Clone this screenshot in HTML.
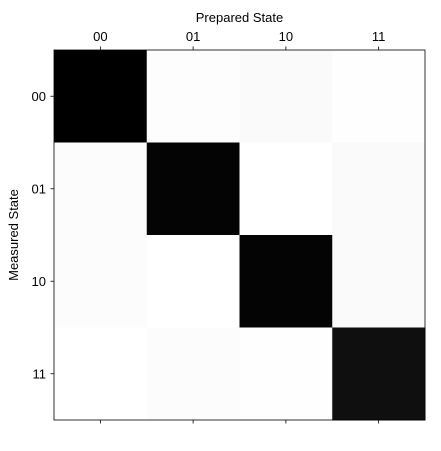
<!DOCTYPE html>
<html><head><meta charset="utf-8"><style>
body{margin:0;background:#fff;width:441px;height:446px;overflow:hidden}
svg{font-family:"Liberation Sans","DejaVu Sans",sans-serif}
</style></head><body>
<svg id="chart" width="441" height="446">
<g id="cells"></g>
<g id="axes"></g>
</svg>
<script>
const categories = ["00","01","10","11"];
const row0 = [1.0, 0.006, 0.018, 0.003];
const row1 = [0.01, 0.985, 0.0, 0.02];
const row2 = [0.012, 0.0, 0.985, 0.02];
const row3 = [0.0, 0.01, 0.003, 0.94];
const matrix = [row0, row1, row2, row3];
const xTitle = "Prepared State";
const yTitle = "Measured State";

const NS = "http://www.w3.org/2000/svg";
const L = 54, T = 50, W = 371, H = 370;
const n = categories.length, cw = W / n, ch = H / n;
const xPos = i => L + i * cw;
const yPos = j => T + j * ch;
const flat = matrix.flat();
const vmin = Math.min(...flat), vmax = Math.max(...flat);
const color = v => { const g = Math.round(255 * (1 - (v - vmin) / (vmax - vmin))); return `rgb(${g},${g},${g})`; };
function mk(tag, attrs, parent) { const e = document.createElementNS(NS, tag); for (const k in attrs) e.setAttribute(k, attrs[k]); parent.appendChild(e); return e; }
const cells = document.getElementById('cells'), axes = document.getElementById('axes');
matrix.forEach((row, j) => row.forEach((v, i) => {
  const r = mk('rect', {x: xPos(i), y: yPos(j), width: cw + 0.5, height: ch + 0.5, fill: color(v)}, cells);
  
  
}));
const frame = mk('rect', {x: L, y: T, width: W, height: H, fill: 'none', stroke: '#000', 'stroke-width': 0.8}, axes);


categories.forEach((c, i) => {
  const cx = xPos(i) + cw / 2, cy = yPos(i) + ch / 2;
  mk('line', {x1: cx, x2: cx, y1: T, y2: T - 3.5, stroke: '#000', 'stroke-width': 0.8}, axes);
  mk('line', {x1: cx, x2: cx, y1: T + H, y2: T + H + 3.5, stroke: '#000', 'stroke-width': 0.8}, axes);
  mk('line', {x1: L, x2: L - 3.5, y1: cy, y2: cy, stroke: '#000', 'stroke-width': 0.8}, axes);
  const xt = mk('text', {x: cx, y: T - 9, 'text-anchor': 'middle', 'font-size': 13}, axes);
  xt.textContent = c;
  
  
  const yt = mk('text', {x: L - 8, y: cy + 4.5, 'text-anchor': 'end', 'font-size': 13}, axes);
  yt.textContent = c;
  
  
});
const xtl = mk('text', {x: L + W / 2, y: 22, 'text-anchor': 'middle', 'font-size': 13}, axes);
xtl.textContent = xTitle;


const ytl = mk('text', {x: 18, y: T + H / 2, 'text-anchor': 'middle', 'font-size': 13, transform: `rotate(-90 18 ${T + H / 2})`}, axes);
ytl.textContent = yTitle;


</script>
</body></html>
